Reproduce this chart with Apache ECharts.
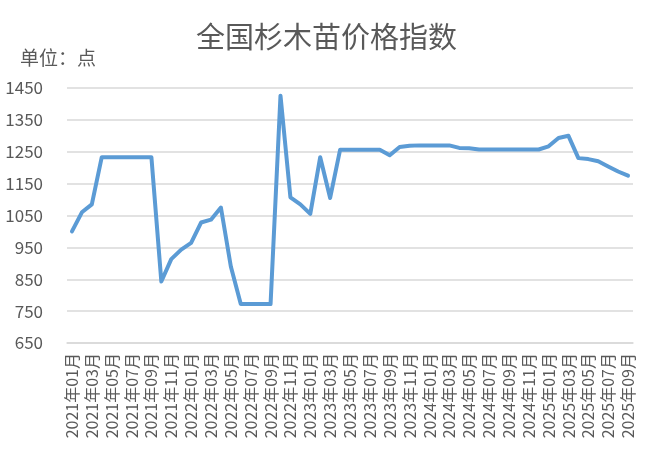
<!DOCTYPE html>
<html><head><meta charset="utf-8">
<script src="https://cdn.jsdelivr.net/npm/echarts@6/dist/echarts.min.js"></script>
<style>html,body{margin:0;padding:0;background:#fff}#c{width:653px;height:467px}</style>
</head><body><div id="c"></div>
<script>
const months = [];
for (let y = 2021; y <= 2025; y++) {
  for (let m = 1; m <= 12; m++) {
    if (y === 2025 && m > 9) break;
    months.push(y + '年' + (m < 10 ? '0' + m : m) + '月');
  }
}
const values = [
  1000, 1060, 1085, 1233, 1233, 1233, 1233, 1233, 1233, 843,
  913, 943, 964, 1028, 1037, 1075, 890, 772, 772, 772,
  772, 1426, 1107, 1085, 1055, 1233, 1105, 1256, 1256, 1256,
  1256, 1256, 1239, 1265, 1269, 1270, 1270, 1270, 1270, 1262,
  1261, 1257, 1257, 1257, 1257, 1257, 1257, 1257, 1267, 1293,
  1300, 1230, 1227, 1220, 1204, 1188, 1175
];
const yMin = 650, yMax = 1450, yStep = 100;
const titleText = '全国杉木苗价格指数';
const unitText = '单位：点';
const font = '"Noto Sans CJK SC", "Microsoft YaHei", sans-serif';
const chart = echarts.init(document.getElementById('c'));
chart.setOption({
  animation: false,
  title: [
    { text: titleText, left: 'center', top: 17, textStyle: { fontFamily: font, fontSize: 29, fontWeight: 'normal', color: '#595959' } },
    { text: unitText, left: 15, top: 43, textStyle: { fontFamily: font, fontSize: 19, fontWeight: 'normal', color: '#595959' } }
  ],
  grid: { left: 67, right: 20, top: 88, bottom: 124 },
  xAxis: {
    type: 'category', data: months, boundaryGap: true,
    axisLine: { lineStyle: { color: '#D9D9D9', width: 1.5 } },
    axisTick: { interval: 1, length: 5, lineStyle: { color: '#D9D9D9', width: 1.5 } },
    axisLabel: { interval: 1, rotate: 90, margin: 10, fontFamily: font, fontSize: 16, color: '#595959' }
  },
  yAxis: {
    type: 'value', min: yMin, max: yMax, interval: yStep,
    axisLine: { show: false }, axisTick: { show: false },
    splitLine: { lineStyle: { color: '#D9D9D9', width: 1.5 } },
    axisLabel: { margin: 24, fontFamily: font, fontSize: 17, color: '#595959', formatter: v => String(v) }
  },
  series: [{
    type: 'line', data: values, symbol: 'none',
    lineStyle: { color: '#5B9BD5', width: 4, join: 'round', cap: 'round' }
  }]
});
</script></body></html>
